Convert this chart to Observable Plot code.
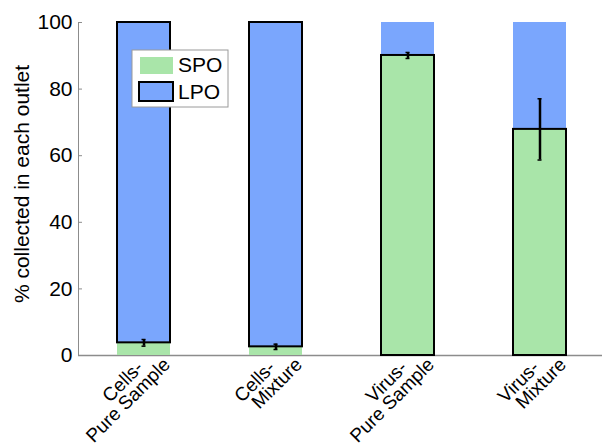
<!DOCTYPE html>
<html>
<head>
<meta charset="utf-8">
<script src="https://cdn.jsdelivr.net/npm/d3@7"></script>
<script src="https://cdn.jsdelivr.net/npm/@observablehq/plot@0.6"></script>
<style>
  html, body { margin: 0; padding: 0; background: white; }
  #chart { width: 602px; height: 446px; }
</style>
</head>
<body>
<div id="chart"></div>
<script>
// Fraction of particles collected at each outlet (SPO / LPO), with error bars on the SPO share
const categories = ["Cells-Pure Sample", "Cells-Mixture", "Virus-Pure Sample", "Virus-Mixture"];
const labelTop = ["Cells-", "Cells-", "Virus-", "Virus-"];
const labelBottom = ["Pure Sample", "Mixture", "Pure Sample", "Mixture"];
const sampleType = ["Cells", "Cells", "Virus", "Virus"];
const spoPercent = [3.8, 2.6, 90.1, 67.9];
const spoError = [1.0, 0.8, 0.9, 9.2];
const yTicks = [0, 20, 40, 60, 80, 100];
const seriesNames = ["SPO", "LPO"];

const GREEN = "#a9e5a9";
const BLUE = "#7aa6fd";
const AXIS = "#8c8c8c";
const FONT = "'Liberation Sans', Arial, Helvetica, sans-serif";

const rows = categories.map((c, i) => ({
  category: c,
  top: labelTop[i],
  bottom: labelBottom[i],
  type: sampleType[i],
  spo: spoPercent[i],
  lpo: 100 - spoPercent[i],
  err: spoError[i]
}));
const cells = rows.filter(d => d.type === "Cells");
const virus = rows.filter(d => d.type === "Virus");

const chart = Plot.plot({
  width: 602,
  height: 446,
  marginLeft: 78,
  marginRight: 0,
  marginTop: 22,
  marginBottom: 91,
  style: { fontFamily: FONT, background: "white", color: "black", overflow: "visible" },
  x: { domain: categories, range: [78, 604], paddingInner: 0.6, paddingOuter: 0.289, axis: null },
  y: { domain: [0, 100], axis: null },
  marks: [
    Plot.ruleY([0], { stroke: AXIS, strokeWidth: 1.5 }),
    Plot.frame({ anchor: "left", stroke: AXIS, strokeWidth: 1 }),
    Plot.axisY(yTicks, { tickSize: -4, tickPadding: 10, fontSize: 21, stroke: AXIS, fill: "black", label: null }),
    // Cells: plain SPO base, outlined LPO on top
    Plot.rectY(cells, { x: "category", y1: 0, y2: "spo", fill: GREEN }),
    Plot.rectY(cells, { x: "category", y1: "spo", y2: 100, fill: BLUE, stroke: "black", strokeWidth: 2 }),
    // Virus: plain LPO on top, outlined SPO base
    Plot.rectY(virus, { x: "category", y1: "spo", y2: 100, fill: BLUE }),
    Plot.rectY(virus, { x: "category", y1: 0, y2: "spo", fill: GREEN, stroke: "black", strokeWidth: 2 }),
    // error bars on the SPO share
    Plot.ruleX(rows, { x: "category", y1: d => d.spo - d.err, y2: d => d.spo + d.err, stroke: "black", strokeWidth: 2.5 }),
    Plot.tickY(rows, { x: "category", y: d => d.spo - d.err, stroke: "black", strokeWidth: 1.5, insetLeft: 24.5, insetRight: 24.5 }),
    Plot.tickY(rows, { x: "category", y: d => d.spo + d.err, stroke: "black", strokeWidth: 1.5, insetLeft: 24.5, insetRight: 24.5 }),
    // rotated two-line category labels
    Plot.text(rows, { x: "category", frameAnchor: "bottom", text: "top", rotate: -45, textAnchor: "end", lineAnchor: "middle", dx: -4, dy: 9, fontSize: 19, fill: "black" }),
    Plot.text(rows, { x: "category", frameAnchor: "bottom", text: "bottom", rotate: -45, textAnchor: "end", lineAnchor: "middle", dx: 23, dy: 6, fontSize: 19, fill: "black" }),
    // y axis title
    Plot.text(["% collected in each outlet"], { frameAnchor: "left", rotate: -90, textAnchor: "middle", dx: -56, dy: -5, fontSize: 21, fill: "black" })
  ]
});

// legend box drawn in the upper left of the plot area
const svg = d3.select(chart);
const lg = svg.append("g").attr("font-family", FONT).attr("font-size", 21).attr("text-anchor", "start");
lg.append("rect").attr("x", 132).attr("y", 50).attr("width", 96).attr("height", 57)
  .attr("fill", "white").attr("stroke", "#9a9a9a").attr("stroke-width", 1);
lg.append("rect").attr("x", 140).attr("y", 57).attr("width", 33).attr("height", 17).attr("fill", GREEN);
lg.append("rect").attr("x", 139).attr("y", 82).attr("width", 34).attr("height", 19)
  .attr("fill", BLUE).attr("stroke", "black").attr("stroke-width", 2);
lg.append("text").attr("x", 178).attr("y", 72).text(seriesNames[0]);
lg.append("text").attr("x", 178).attr("y", 99).text(seriesNames[1]);

document.getElementById("chart").appendChild(chart);
</script>
</body>
</html>
